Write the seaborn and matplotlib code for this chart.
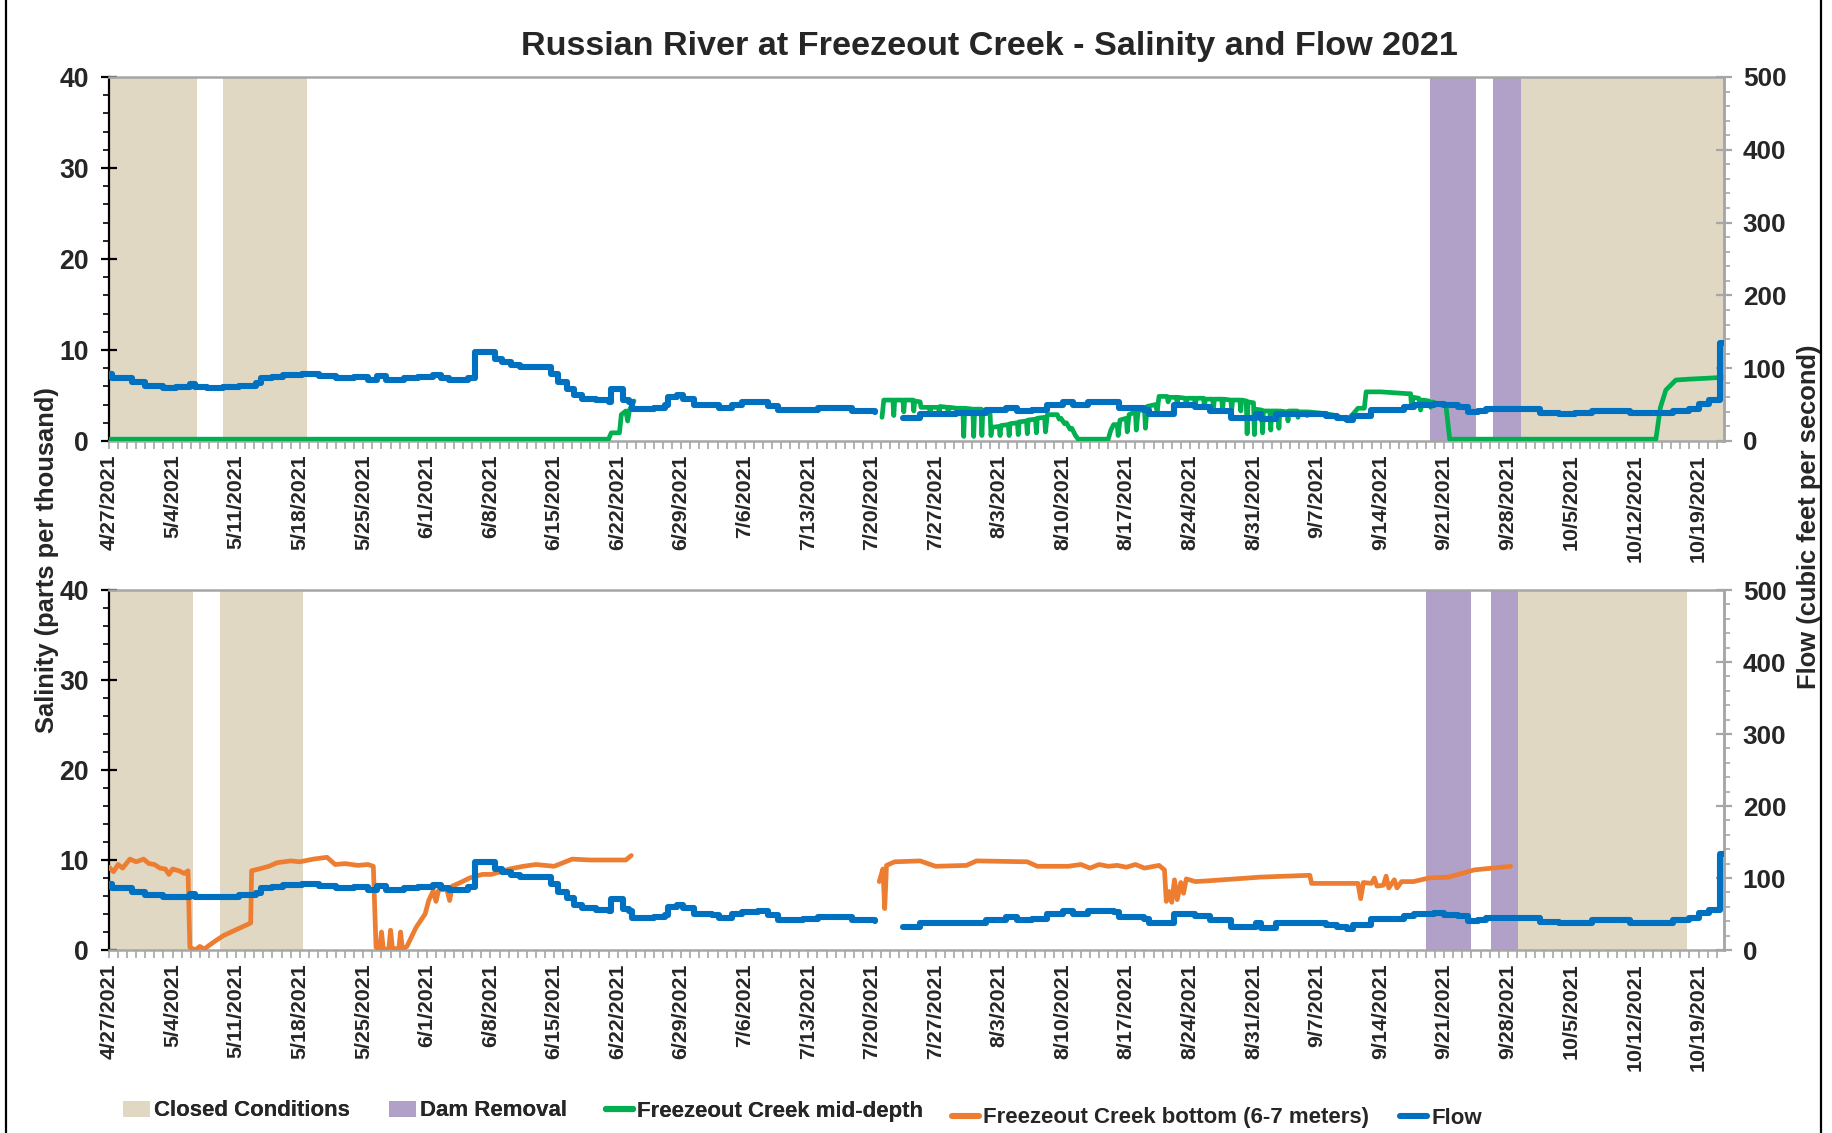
import numpy as np
import pandas as pd
import matplotlib
matplotlib.use("Agg")
import matplotlib.pyplot as plt
import seaborn as sns
from matplotlib.patches import Patch
from matplotlib.lines import Line2D

# ---------------- DATA ----------------
title = "Russian River at Freezeout Creek - Salinity and Flow 2021"
date_labels = ["4/27/2021", "5/4/2021", "5/11/2021", "5/18/2021", "5/25/2021", "6/1/2021",
               "6/8/2021", "6/15/2021", "6/22/2021", "6/29/2021", "7/6/2021", "7/13/2021",
               "7/20/2021", "7/27/2021", "8/3/2021", "8/10/2021", "8/17/2021", "8/24/2021",
               "8/31/2021", "9/7/2021", "9/14/2021", "9/21/2021", "9/28/2021", "10/5/2021",
               "10/12/2021", "10/19/2021"]

# days since 4/27/2021
closed_top = [(0, 9.65), (12.5, 21.75), (155.3, 178.0)]
dam_top = [(145.4, 150.5), (152.4, 155.5)]
closed_bot = [(0, 9.3), (12.2, 21.4), (155.1, 173.7)]
dam_bot = [(145.0, 150.0), (152.1, 155.1)]

flow_days = [0, 0.3, 2.5, 4, 6, 7.4, 8.9, 9.5, 10.8, 12.5, 14.3, 16.2, 16.7, 18, 19.2, 21.2, 23.1, 25,
             27, 28.5, 29.5, 30.5, 32.5, 34, 35.7, 36.5, 37.4, 39.5, 40.3, 42.3, 42.5, 43.3, 44.3, 45.3,
             48.2, 48.7, 49.4, 50.4, 51.2, 52.1, 53.6, 55.1, 55.3, 56.3, 56.6, 57.3, 57.6, 60, 61.2,
             61.5, 62.5, 63.2, 64.4, 66.4, 67.2, 68.6, 69.7, 71.4, 72.5, 73.6, 76.4, 78.1, 80.4, 81.8,
             84.3, np.nan,
             87.4, 89.3, 93.2, 96.6, 98.8, 100, 101.6, 103.3, 105, 106.1, 107.8, 110.6, 111.2, 114,
             114.5, 116.2, 117.3, 119.6, 121.2, 123.5, 126.3, 126.8, 128.5, 132.4, 134, 135.2, 136.3,
             137, 138.9, 141, 142.6, 143.7, 145.9, 147, 148.5, 149.6, 150.7, 151.6, 157, 157.5, 159.6,
             161.4, 163.3, 167, 167.5, 170.7, 172.2, 174, 175.1, 176.2, 177.3, 177.35, 177.7]
flow_cfs = [92, 86, 81, 76, 73, 74, 78, 74, 73, 74, 76, 79, 86, 88, 90, 92, 89, 86,
            88, 84, 89, 84, 86, 88, 90, 86, 84, 87, 122, 122, 112, 108, 104, 101,
            101, 92, 81, 72, 63, 58, 56, 54, 71, 71, 57, 54, 44, 46, 49,
            60, 63, 58, 50, 49, 45, 50, 53, 54, 48, 42, 43, 46, 46, 41,
            40, np.nan,
            32, 37, 38, 42, 46, 41, 43, 50, 54, 50, 54, 53, 46, 43,
            37, 37, 50, 47, 41, 32, 37, 30, 37, 37, 35, 32, 29,
            35, 43, 43, 47, 50, 51, 49, 47, 40, 41, 44, 44, 39, 37,
            38, 41, 41, 38, 38, 41, 44, 51, 56, 56, 134, 134]

mid_days = [0, 55.0, 55.3, 56.2, 56.4, 56.9, 57.1, 57.3, 57.8, np.nan,
            85.1, 85.3, 86.3, 86.4, 86.5, 87.4, 87.5, 87.6, 88.5, 88.6, 88.7, 89.3, 89.4,
            90.3, 90.4, 90.5, 91.3, 91.4, 91.5, 92.3, 92.4, 92.5, 93.3,
            94.0, 94.1, 94.2, 95.1, 95.2, 95.3, 96.0, 96.1, 96.2, 97.0, 97.1, 97.2,
            98.0, 98.1, 98.2, 99.0, 99.1, 99.2, 100.0, 100.1, 100.2, 101.0, 101.1, 101.2,
            102.0, 102.1, 102.2, 103.0, 103.1, 103.3, 104.4,
            104.6, 104.8, 105.2, 105.4, 105.8, 106.0, 106.4, 106.7, 110.0,
            110.3, 110.6, 111.0, 111.1, 111.3, 112.0, 112.1, 112.3, 113.0, 113.1, 113.3,
            114.0, 114.1, 114.3, 115.2, 115.4, 115.6,
            116.5, 116.6, 116.7, 117.5, 117.6, 117.7, 118.5, 118.6, 118.7, 119.5, 119.6, 119.7,
            120.5, 120.6, 120.7, 121.5, 121.6, 121.7, 122.5, 122.6, 122.7, 123.5, 123.6, 123.7,
            124.5, 124.6, 124.7,
            125.2, 125.3, 125.4, 126.0, 126.1, 126.2, 126.9, 127.0, 127.1, 127.8, 127.9, 128.0,
            128.7, 128.8, 128.9, 129.7, 129.8, 129.9, 130.8, 130.9, 131.0, 131.8, 131.9, 132.0,
            133.0, 134.0, 135.0, 136.3, 137.0, 137.5, 138.2, 138.4,
            140.0, 141.5, 143.0, 143.3, 143.4, 143.6, 144.2, 144.4, 144.6, 145.3, 145.5, 145.7,
            146.5, 147.2, 147.4, 147.6, 170.3, 170.8, 171.4, 172.5, 174.0, 176.0, 177.7]
mid_sal = [0.2, 0.2, 0.9, 0.9, 2.9, 3.3, 2.2, 3.4, 4.4, np.nan,
           2.6, 4.5, 4.5, 2.8, 4.5, 4.5, 3.2, 4.5, 4.5, 3.3, 4.4, 4.3, 3.7,
           3.7, 3.2, 3.7, 3.7, 3.2, 3.8, 3.7, 3.1, 3.7, 3.6,
           3.6, 0.5, 3.6, 3.5, 0.5, 3.5, 3.5, 0.6, 3.4, 3.0, 0.6, 1.5,
           1.6, 0.6, 1.7, 1.8, 0.6, 1.9, 2.0, 0.7, 2.1, 2.2, 0.8, 2.3,
           2.4, 0.9, 2.5, 2.6, 1.0, 2.9, 2.9,
           2.4, 2.5, 1.9, 2.0, 1.3, 1.4, 0.6, 0.2, 0.2,
           1.2, 1.8, 1.8, 0.6, 2.3, 2.5, 1.0, 2.9, 3.2, 1.2, 3.3,
           3.5, 1.4, 3.8, 4.0, 3.3, 4.9,
           4.9, 4.3, 4.8, 4.8, 4.1, 4.8, 4.7, 3.9, 4.7, 4.7, 3.8, 4.7,
           4.7, 3.7, 4.6, 4.6, 3.6, 4.6, 4.6, 3.5, 4.6, 4.5, 3.4, 4.5,
           4.5, 3.3, 4.5,
           4.4, 0.8, 4.3, 4.2, 0.7, 3.5, 3.4, 0.9, 3.3, 3.3, 1.2, 3.3,
           3.3, 1.4, 3.3, 3.2, 2.2, 3.3, 3.3, 2.6, 3.2, 3.2, 2.8, 3.2,
           3.1, 3.0, 2.8, 2.3, 3.0, 3.6, 3.6, 5.4,
           5.4, 5.3, 5.2, 5.2, 3.8, 4.8, 4.7, 3.4, 4.5, 4.4, 3.7, 4.3,
           4.0, 3.8, 2.0, 0.2, 0.2, 3.7, 5.6, 6.7, 6.8, 6.9, 7.0]

bot_days = [0, 0.5, 1, 1.5, 2.3, 3, 3.8, 4.4, 5, 5.6, 6.2, 6.6, 7, 7.7, 8.3, 8.7, 8.9, 9.5, 10,
            10.5, 11, 11.7, 12.6, 14.1, 15.6, 15.7, 16.5, 17.6, 18.5, 20, 21, 22.5, 24, 24.9, 26,
            27.4, 28.5, 29.1, 29.4, 29.8, 30.0, 30.2, 30.8, 31.0, 31.2, 31.9, 32.1, 32.3, 32.8,
            33.8, 34.8, 35.2, 35.7, 36.0, 36.3, 37.2, 37.5, 37.8, 38.7, 39.7, 41.1, 42.1, 44.1,
            45.6, 47, 49, 51, 53, 56.9, 57.5, np.nan,
            84.8, 85.2, 85.4, 85.6, 86.5, 89.3, 91, 94.4, 95.5, 101.1, 102.2, 105.6, 107, 108,
            109, 110, 111, 112, 113, 114, 115.6, 116.2, 116.4, 116.7, 117.0, 117.3, 117.6, 118.0,
            118.3, 118.6, 119.6, 121.2, 124, 126.8, 132.2, 132.4, 135, 137.5, 137.8, 138.1, 139,
            139.3, 139.6, 140.3, 140.6, 140.9, 141.5, 141.8, 142.3, 143.6, 145.3, 147.5, 150.3, 154.3]
bot_sal = [9.2, 8.7, 9.5, 9.1, 10.1, 9.8, 10.1, 9.6, 9.5, 9.1, 9.0, 8.4, 9.0, 8.8, 8.5, 8.8, 0.3, 0.0, 0.4,
           0.1, 0.5, 1.0, 1.6, 2.3, 3.0, 8.8, 9.0, 9.3, 9.7, 9.9, 9.8, 10.1, 10.3, 9.5, 9.6,
           9.4, 9.5, 9.3, 0.3, 0.1, 2.0, 0.1, 0.1, 2.2, 0.2, 0.1, 2.0, 0.1, 0.4,
           2.5, 4.0, 5.5, 6.6, 5.4, 6.7, 6.7, 5.5, 7.1, 7.5, 8.0, 8.4, 8.4, 9.0,
           9.3, 9.5, 9.3, 10.1, 10.0, 10.0, 10.5, np.nan,
           7.6, 9.0, 4.6, 9.4, 9.8, 9.9, 9.3, 9.4, 9.9, 9.8, 9.3, 9.3, 9.5, 9.1,
           9.5, 9.3, 9.4, 9.2, 9.5, 9.1, 9.4, 8.9, 5.4, 6.5, 5.3, 7.8, 5.6, 7.5,
           6.3, 7.9, 7.6, 7.7, 7.9, 8.1, 8.3, 7.4, 7.4, 7.4, 5.7, 7.5, 7.4,
           8.0, 7.1, 7.2, 8.2, 6.9, 7.8, 6.9, 7.6, 7.6, 8.0, 8.1, 8.9, 9.3]

legend_labels = ["Closed Conditions", "Dam Removal", "Freezeout Creek mid-depth",
                 "Freezeout Creek bottom (6-7 meters)", "Flow"]

# ---------------- STYLE ----------------
CLOSED = "#E0D8C3"
DAM = "#B1A1C8"
BLUE = "#0070C0"
GREEN = "#00B050"
ORANGE = "#ED7D31"
GRAY = "#A6A6A6"

sns.set_theme(style="white")
plt.rcParams["font.family"] = ["Liberation Sans", "DejaVu Sans"]
NARROW = ["Liberation Sans Narrow", "Liberation Sans", "DejaVu Sans"]

W, H = 1832, 1133
fig = plt.figure(figsize=(W / 200, H / 200), dpi=200)


def rect(l, t, r, b):
    return [l / W, 1 - b / H, (r - l) / W, (b - t) / H]


def segments(days, vals):
    df = pd.DataFrame({"day": days, "val": vals})
    grp = df["day"].isna().cumsum()
    out = []
    for _, g in df.groupby(grp):
        g = g.dropna()
        if len(g):
            out.append(g)
    return out


XMAX = 177.8


def panel(box, closed, dam, sal_days, sal_vals, sal_color):
    ax = fig.add_axes(rect(*box))
    for a, b in closed:
        ax.axvspan(a, b, color=CLOSED, lw=0, zorder=0)
    for a, b in dam:
        ax.axvspan(a, b, color=DAM, lw=0, zorder=0)
    for g in segments(sal_days, sal_vals):
        sns.lineplot(data=g, x="day", y="val", ax=ax, color=sal_color, lw=1.7,
                     estimator=None, sort=False, zorder=3)
    ax.set_xlim(0, XMAX)
    ax.set_ylim(0, 40)
    ax.set_xlabel("")
    ax.set_ylabel("")
    ax.set_yticks([0, 10, 20, 30, 40])
    ax.set_yticks(np.arange(0, 41, 2), minor=True)
    ax.set_xticks(np.arange(0, len(date_labels) * 7, 7))
    ax.set_xticks(np.arange(0, 178, 1), minor=True)
    ax.set_xticklabels(date_labels, rotation=90, fontweight="bold", fontsize=7.7, family=NARROW)
    for lab in ax.get_yticklabels():
        lab.set_fontweight("bold")
        lab.set_fontsize(9.6)
        lab.set_family(NARROW)
    ax.tick_params(axis="y", which="major", direction="inout", length=5.5, width=0.8,
                   color="black", pad=4.5, left=True)
    ax.tick_params(axis="y", which="minor", direction="out", length=2.2, width=0.6,
                   color="black", left=True)
    ax.tick_params(axis="x", which="both", direction="out", length=2.9, width=0.6,
                   color=GRAY, bottom=True, pad=2)
    ax.spines["left"].set_color("black")
    ax.spines["left"].set_linewidth(0.8)
    for s in ["bottom", "top", "right"]:
        ax.spines[s].set_color(GRAY)
        ax.spines[s].set_linewidth(0.9)

    ax2 = ax.twinx()
    for g in segments(flow_days, flow_cfs):
        sns.lineplot(data=g, x="day", y="val", ax=ax2, color=BLUE, lw=2.2,
                     estimator=None, sort=False, drawstyle="steps-post", zorder=4)
    ax2.set_xlim(0, XMAX)
    ax2.set_ylim(0, 500)
    ax2.set_ylabel("")
    ax2.set_yticks([0, 100, 200, 300, 400, 500])
    ax2.set_yticks(np.arange(0, 501, 20), minor=True)
    for lab in ax2.get_yticklabels():
        lab.set_fontweight("bold")
        lab.set_fontsize(9.4)
        lab.set_family(NARROW)
    ax2.tick_params(axis="y", which="major", direction="inout", length=5.5, width=0.8,
                    color=GRAY, pad=4.0, right=True)
    ax2.tick_params(axis="y", which="minor", direction="out", length=2.0, width=0.6,
                    color=GRAY, right=True)
    for s in ["left", "bottom", "top"]:
        ax2.spines[s].set_visible(False)
    ax2.spines["right"].set_color(GRAY)
    ax2.spines["right"].set_linewidth(0.9)
    return ax, ax2


panel((109, 77, 1724, 441), closed_top, dam_top, mid_days, mid_sal, GREEN)
panel((109, 590, 1724, 950), closed_bot, dam_bot, bot_days, bot_sal, ORANGE)

fig.text(989 / W, 1 - 47 / H, title, ha="center", va="center",
         fontsize=12.3, fontweight="bold")
fig.text(47 / W, 1 - 560 / H, "Salinity (parts per thousand)", rotation=90, ha="center",
         va="center", fontsize=9.2, fontweight="bold")
fig.text(1809 / W, 1 - 517 / H, "Flow (cubic feet per second)", rotation=90, ha="center",
         va="center", fontsize=9.2, fontweight="bold")

handles = [Patch(facecolor=CLOSED, edgecolor="none"),
           Patch(facecolor=DAM, edgecolor="none"),
           Line2D([], [], color=GREEN, lw=2.2),
           Line2D([], [], color=ORANGE, lw=2.2),
           Line2D([], [], color=BLUE, lw=2.2)]
prop = {"family": NARROW, "weight": "bold", "size": 8.0}
leg1 = fig.legend(handles[:3], legend_labels[:3], loc="center left",
                  bbox_to_anchor=(123 / W, 1 - 1111 / H), ncol=3, frameon=False,
                  handlelength=1.2, handletextpad=0.2, columnspacing=1.75, prop=prop,
                  borderaxespad=0, borderpad=0)
fig.add_artist(leg1)
leg2 = fig.legend(handles[3:], legend_labels[3:], loc="center left",
                  bbox_to_anchor=(952 / W, 1 - 1118 / H), ncol=2, frameon=False,
                  handlelength=1.2, handletextpad=0.2, columnspacing=1.4, prop=prop,
                  borderaxespad=0, borderpad=0)

# figure frame lines
fig.add_artist(Line2D([6 / W, 6 / W], [0, 1], color="black", lw=0.8))
fig.add_artist(Line2D([1821 / W, 1821 / W], [0, 1], color="black", lw=0.8))

fig.savefig("out.png", dpi=200)
